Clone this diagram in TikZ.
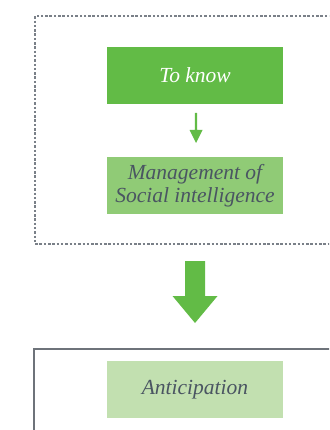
\documentclass[tikz,border=0pt]{standalone}
\usepackage{fontspec}
\setmainfont{Liberation Serif}
\definecolor{gA}{HTML}{62BB46}
\definecolor{gB}{HTML}{90CB76}
\definecolor{gC}{HTML}{C2E0B0}
\definecolor{txt}{HTML}{4A5562}
\definecolor{frame}{HTML}{7A8088}
\begin{document}
\begin{tikzpicture}[x=1pt,y=-1pt,
  box/.style={minimum width=176pt,minimum height=57pt,inner sep=0pt,align=center,font=\itshape\fontsize{21.5}{23}\selectfont,text=txt},
]
\useasboundingbox (0,0) rectangle (329,430);
\clip (0,0) rectangle (329,430);
\draw[frame,line width=1.1pt,dash pattern=on 2.5pt off 1.8pt] (340,16) -- (35,16) -- (35,244) -- (340,244);
\draw[frame!90!black,line width=1.1pt] (340,349) -- (34,349) -- (34,440);
\node[box,fill=gA,text=white] (a) at (195,75.5) {To know};
\node[box,fill=gB] (b) at (195,185.5) {Management of\\Social intelligence};
\node[box,fill=gC] (c) at (195,389.5) {Anticipation};
\fill[gA] (194.8,113) rectangle (197.2,130) (189.5,130) -- (202.5,130) -- (196,143) -- cycle;
\fill[gA] (185,261) -- (205,261) -- (205,296) -- (217.5,296) -- (195,323) -- (172.5,296) -- (185,296) -- cycle;
\end{tikzpicture}
\end{document}
